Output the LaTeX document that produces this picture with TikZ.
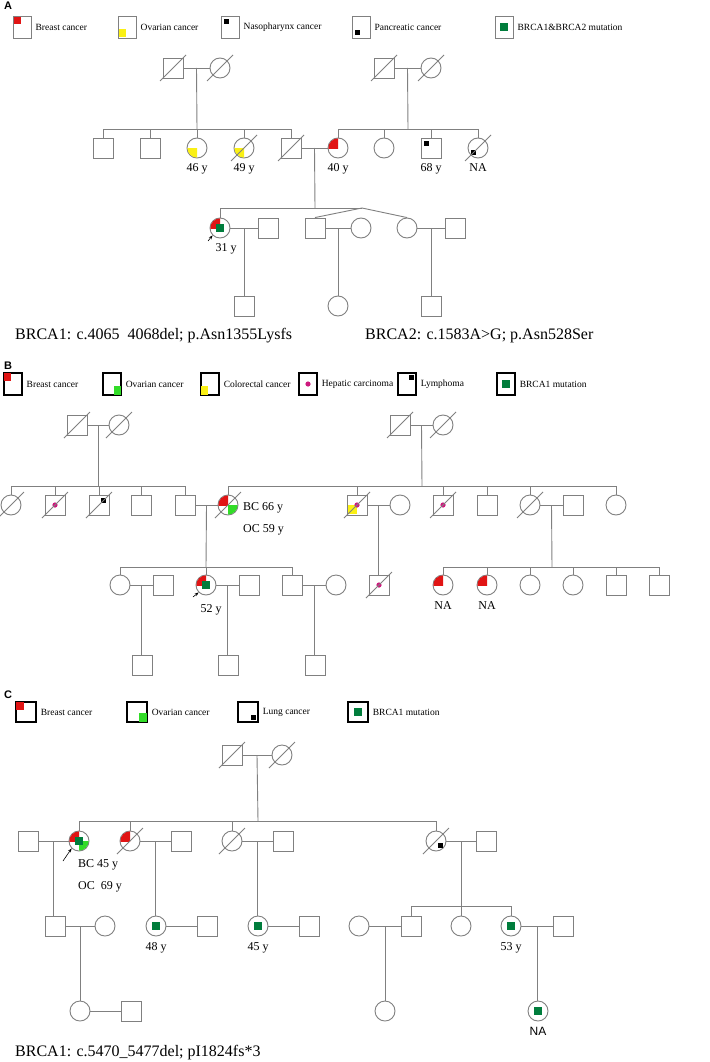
\documentclass[tikz,border=0pt]{standalone}
\usepackage{fontspec}
\setmainfont{Liberation Serif}
\newfontfamily\labfont{Liberation Sans}
\usetikzlibrary{positioning,arrows.meta}
\definecolor{kin}{RGB}{128,128,128}
\definecolor{bcred}{RGB}{225,20,20}
\definecolor{ovyel}{RGB}{250,240,20}
\definecolor{ovgrn}{RGB}{50,220,40}
\definecolor{mutgrn}{RGB}{0,125,60}
\definecolor{hepmag}{RGB}{205,25,125}
\tikzset{
  kin line/.style={draw=kin, line width=0.9pt},
  male/.style={rectangle, kin line, minimum size=20pt, inner sep=0pt},
  female/.style={circle, kin line, minimum size=20pt, inner sep=0pt},
  legA/.style={rectangle, kin line, minimum width=18pt, minimum height=22pt, inner sep=0pt},
  legB/.style={rectangle, draw=black, line width=1.1pt, minimum width=18pt, minimum height=22pt, inner sep=0pt},
  legC/.style={rectangle, draw=black, line width=1.3pt, minimum size=20pt, inner sep=0pt},
  legtxt/.style={font=\fontsize{9.5}{10}\selectfont, inner sep=0pt, right=4pt},
  agetxt/.style={font=\fontsize{12}{13}\selectfont, inner sep=0pt},
  muttxt/.style={font=\fontsize{16}{17}\selectfont, anchor=west, inner sep=0pt},
  panel/.style={font=\labfont\bfseries\fontsize{11}{12}\selectfont, inner sep=0pt}
}
% markers
\newcommand\dead[1]{\draw[kin line] ([shift={(-13,13)}]#1.center) -- ([shift={(13,-13)}]#1.center);}
\newcommand\qc[4]{\begin{scope}\clip (#1.center) rectangle ([shift={(#2,#3)}]#1.center);
  \fill[#4] (#1.center) circle (9.6pt);\end{scope}}
\newcommand\qs[4]{\fill[#4] (#1.center) rectangle ([shift={(#2,#3)}]#1.center);}
\newcommand\gmut[1]{\fill[mutgrn] ([shift={(-4,-4)}]#1.center) rectangle ([shift={(4,4)}]#1.center);}
\newcommand\hep[1]{\fill[hepmag] (#1.center) circle (2.6pt);}
\newcommand\blk[3]{\fill[black] ([shift={(#2,#3)}]#1.center) rectangle ([shift={(#2*0.35,#3*0.35)}]#1.center);}

\begin{document}
\begin{tikzpicture}[x=1pt,y=-1pt]
\useasboundingbox[fill=white] (0,0) rectangle (709,1062);

%%%%% A
\node[panel] (pA) at (8,6) {A};
\node[legA] (lgA1) at (22,27) {};
\node[legA] (lgA2) at (127,27) {};
\node[legA] (lgA3) at (230,27) {};
\node[legA] (lgA4) at (361,27) {};
\node[legA] (lgA5) at (504,27) {};
\fill[bcred] ([shift={(1,1)}]lgA1.north west) rectangle ([shift={(8,8)}]lgA1.north west);
\fill[ovyel] ([shift={(1,-1)}]lgA2.south west) rectangle ([shift={(8,-9)}]lgA2.south west);
\fill[black] ([shift={(3,3)}]lgA3.north west) rectangle ([shift={(8,8)}]lgA3.north west);
\fill[black] ([shift={(3,-3)}]lgA4.south west) rectangle ([shift={(8,-8)}]lgA4.south west);
\gmut{lgA5}
\node[legtxt, right=4pt of lgA1] {Breast cancer};
\node[legtxt, right=4pt of lgA2] {Ovarian cancer};
\node[legtxt, right=4pt of lgA3] {Nasopharynx cancer};
\node[legtxt, right=4pt of lgA4] {Pancreatic cancer};
\node[legtxt, right=4pt of lgA5] {BRCA1\&BRCA2 mutation};

\node[male] (gA1) at (173,68) {};
\node[female] (gA2) at (220,68) {};
\node[male] (gA3) at (384,68) {};
\node[female] (gA4) at (431,68) {};
\dead{gA1} \dead{gA2} \dead{gA3} \dead{gA4}
\draw[kin line] (gA1) -- (gA2) coordinate[midway] (mA1);
\draw[kin line] (gA3) -- (gA4) coordinate[midway] (mA2);
\coordinate (sA1) at (197,129);
\coordinate (sA2) at (408,129);
\draw[kin line] (mA1) -- (sA1);
\draw[kin line] (mA2) -- (sA2);

\node[male] (a1) at (103,148) {};
\node[male] (a2) at (150,148) {};
\node[female] (a3) at (197,148) {};
\node[female] (a4) at (244,148) {};
\node[male] (a5) at (291,148) {};
\node[female] (a6) at (338,148) {};
\node[female] (a7) at (384,148) {};
\node[male] (a8) at (431,148) {};
\node[female] (a9) at (478,148) {};
\qc{a3}{-12}{12}{ovyel} \qc{a4}{-12}{12}{ovyel} \qc{a6}{-12}{-12}{bcred}
\blk{a8}{-7}{-7} \blk{a9}{-7}{7}
\dead{a4} \dead{a5} \dead{a9}
\foreach \k in {a1,a2,a3,a4,a5} \draw[kin line] (\k.north) |- (sA1);
\foreach \k in {a6,a7,a8,a9} \draw[kin line] (\k.north) |- (sA2);
\node[agetxt, below=5pt of a3] {46 y};
\node[agetxt, below=5pt of a4] {49 y};
\node[agetxt, below=5pt of a6] {40 y};
\node[agetxt, below=5pt of a8] {68 y};
\node[agetxt, below=5pt of a9] {NA};

\draw[kin line] (a5) -- (a6) coordinate[midway] (mA3);
\coordinate (sA3) at (315,208);
\coordinate (twA) at (362,208);
\draw[kin line] (mA3) -- (sA3);

\node[female] (b1) at (220,228) {};
\node[male] (b2) at (268,228) {};
\node[male] (b3) at (315,228) {};
\node[female] (b4) at (361,228) {};
\node[female] (b5) at (407,228) {};
\node[male] (b6) at (455,228) {};
\qc{b1}{-12}{-12}{bcred} \gmut{b1}
\draw[kin line] (b1.north) |- (twA);
\draw[kin line] (twA) -- (b3.north);
\draw[kin line] (twA) -- (b5.north);
\coordinate (arA) at (208,241);
\draw[-{Stealth[length=4pt]}, line width=0.6pt] (arA) -- (b1.south west);
\node[agetxt] (ageb1) at (226,249) {31 y};
\draw[kin line] (b1) -- (b2) coordinate[midway] (mA4);
\draw[kin line] (b3) -- (b4) coordinate[midway] (mA5);
\draw[kin line] (b5) -- (b6) coordinate[midway] (mA6);
\node[male] (c1) at (244,306) {};
\node[female] (c2) at (338,306) {};
\node[male] (c3) at (431,306) {};
\draw[kin line] (mA4) -- (mA4 |- c1.north);
\draw[kin line] (mA5) -- (mA5 |- c2.north);
\draw[kin line] (mA6) -- (mA6 |- c3.north);
\node[muttxt] (txA1) at (15,336) {BRCA1: c.4065\enspace 4068del; p.Asn1355Lysfs};
\node[muttxt] (txA2) at (365,336) {BRCA2: c.1583A>G; p.Asn528Ser};

%%%%% B
\node[panel] (pB) at (8,366) {B};
\node[legB] (lgB1) at (13,384) {};
\node[legB] (lgB2) at (112,384) {};
\node[legB] (lgB3) at (210,384) {};
\node[legB] (lgB4) at (308,384) {};
\node[legB] (lgB5) at (407,384) {};
\node[legB] (lgB6) at (506,384) {};
\fill[bcred] ([shift={(1,1)}]lgB1.north west) rectangle ([shift={(8,9)}]lgB1.north west);
\fill[ovgrn] ([shift={(-1,-1)}]lgB2.south east) rectangle ([shift={(-8,-10)}]lgB2.south east);
\fill[ovyel] ([shift={(1,-1)}]lgB3.south west) rectangle ([shift={(8,-10)}]lgB3.south west);
\hep{lgB4}
\fill[black] ([shift={(-3,3)}]lgB5.north east) rectangle ([shift={(-8,8)}]lgB5.north east);
\gmut{lgB6}
\node[legtxt, right=4pt of lgB1] {Breast cancer};
\node[legtxt, right=4pt of lgB2] {Ovarian cancer};
\node[legtxt, right=4pt of lgB3] {Colorectal cancer};
\node[legtxt, right=4pt of lgB4] {Hepatic carcinoma};
\node[legtxt, right=4pt of lgB5] {Lymphoma};
\node[legtxt, right=4pt of lgB6] {BRCA1 mutation};

\node[male] (gB1) at (77,425) {};
\node[female] (gB2) at (119,425) {};
\node[male] (gB3) at (400,425) {};
\node[female] (gB4) at (443,425) {};
\dead{gB1} \dead{gB2} \dead{gB3} \dead{gB4}
\draw[kin line] (gB1) -- (gB2) coordinate[midway] (mB1);
\draw[kin line] (gB3) -- (gB4) coordinate[midway] (mB2);
\coordinate (sB1) at (98,486);
\coordinate (sB2) at (422,486);
\draw[kin line] (mB1) -- (sB1);
\draw[kin line] (mB2) -- (sB2);

\node[female] (d1) at (11,505) {};
\node[male] (d2) at (55,505) {};
\node[male] (d3) at (99,505) {};
\node[male] (d4) at (141,505) {};
\node[male] (d5) at (185,505) {};
\node[female] (d6) at (228,505) {};
\node[male] (d7) at (357,505) {};
\node[female] (d8) at (400,505) {};
\node[male] (d9) at (443,505) {};
\node[male] (d10) at (487,505) {};
\node[female] (d11) at (530,505) {};
\node[male] (d12) at (573,505) {};
\node[female] (d13) at (616,505) {};
\hep{d2} \blk{d3}{7}{-7}
\qc{d6}{-12}{-12}{bcred} \qc{d6}{12}{12}{ovgrn}
\qs{d7}{-9}{9}{ovyel} \hep{d7} \hep{d9}
\dead{d1} \dead{d2} \dead{d3} \dead{d6} \dead{d7} \dead{d9} \dead{d11}
\foreach \k in {d1,d2,d3,d4,d5} \draw[kin line] (\k.north) |- (sB1);
\foreach \k in {d6,d7,d9,d10,d11,d13} \draw[kin line] (\k.north) |- (sB2);
\node[agetxt, anchor=west] (bcB) at (243,508) {BC 66 y};
\node[agetxt, anchor=west] (ocB) at (243,530) {OC 59 y};

\draw[kin line] (d5) -- (d6) coordinate[midway] (mB3);
\draw[kin line] (d7) -- (d8) coordinate[midway] (mB4);
\draw[kin line] (d11) -- (d12) coordinate[midway] (mB5);
\coordinate (sB3) at (206,567);
\coordinate (sB4) at (552,567);
\draw[kin line] (mB3) -- (sB3);
\draw[kin line] (mB5) -- (sB4);

\node[female] (e1) at (120,585) {};
\node[male] (e2) at (163,585) {};
\node[female] (e3) at (206,585) {};
\node[male] (e4) at (249,585) {};
\node[male] (e5) at (292,585) {};
\node[female] (e6) at (336,585) {};
\node[male] (e7) at (379,585) {};
\node[female] (e8) at (443,585) {};
\node[female] (e9) at (487,585) {};
\node[female] (e10) at (530,585) {};
\node[female] (e11) at (573,585) {};
\node[male] (e12) at (616,585) {};
\node[male] (e13) at (659,585) {};
\qc{e3}{-12}{-12}{bcred} \gmut{e3}
\hep{e7} \dead{e7}
\qc{e8}{-12}{-12}{bcred} \qc{e9}{-12}{-12}{bcred}
\foreach \k in {e1,e3,e5} \draw[kin line] (\k.north) |- (sB3);
\foreach \k in {e8,e9,e10,e11,e12,e13} \draw[kin line] (\k.north) |- (sB4);
\draw[kin line] (mB4) -- (mB4 |- e7.north);
\coordinate (arB) at (193,597);
\draw[-{Stealth[length=4pt]}, line width=0.6pt] (arB) -- (e3.south west);
\node[agetxt] (agee3) at (211,610) {52 y};
\node[agetxt, below=6pt of e8] {NA};
\node[agetxt, below=6pt of e9] {NA};

\draw[kin line] (e1) -- (e2) coordinate[midway] (mB6);
\draw[kin line] (e3) -- (e4) coordinate[midway] (mB7);
\draw[kin line] (e5) -- (e6) coordinate[midway] (mB8);
\node[male] (f1) at (142,665) {};
\node[male] (f2) at (228,665) {};
\node[male] (f3) at (315,665) {};
\draw[kin line] (mB6) -- (mB6 |- f1.north);
\draw[kin line] (mB7) -- (mB7 |- f2.north);
\draw[kin line] (mB8) -- (mB8 |- f3.north);

%%%%% C
\node[panel] (pC) at (8,695) {C};
\node[legC] (lgC1) at (26,712) {};
\node[legC] (lgC2) at (137,712) {};
\node[legC] (lgC3) at (248,712) {};
\node[legC] (lgC4) at (358,712) {};
\fill[bcred] ([shift={(1,1)}]lgC1.north west) rectangle ([shift={(9,9)}]lgC1.north west);
\fill[ovgrn] ([shift={(-1,-1)}]lgC2.south east) rectangle ([shift={(-9,-10)}]lgC2.south east);
\fill[black] ([shift={(-3,-3)}]lgC3.south east) rectangle ([shift={(-8,-8)}]lgC3.south east);
\gmut{lgC4}
\node[legtxt, right=4pt of lgC1] {Breast cancer};
\node[legtxt, right=4pt of lgC2] {Ovarian cancer};
\node[legtxt, right=4pt of lgC3] {Lung cancer};
\node[legtxt, right=4pt of lgC4] {BRCA1 mutation};

\node[male] (gC1) at (232,755) {};
\node[female] (gC2) at (282,755) {};
\dead{gC1} \dead{gC2}
\draw[kin line] (gC1) -- (gC2) coordinate[midway] (mC1);
\coordinate (sC1) at (258,821);
\draw[kin line] (mC1) -- (sC1);

\node[male] (h1) at (28,841) {};
\node[female] (h2) at (79,841) {};
\node[female] (h3) at (130,841) {};
\node[male] (h4) at (181,841) {};
\node[female] (h5) at (232,841) {};
\node[male] (h6) at (283,841) {};
\node[female] (h7) at (436,841) {};
\node[male] (h8) at (486,841) {};
\qc{h2}{-12}{-12}{bcred} \qc{h2}{12}{12}{ovgrn} \gmut{h2}
\qc{h3}{-12}{-12}{bcred}
\blk{h7}{7}{7}
\dead{h3} \dead{h5} \dead{h7}
\foreach \k in {h2,h3,h5,h7} \draw[kin line] (\k.north) |- (sC1);
\coordinate (arC) at (63,861);
\draw[-{Stealth[length=4pt]}, line width=0.6pt] (arC) -- (h2.south west);
\node[agetxt, anchor=west] (bcC) at (78,865) {BC 45 y};
\node[agetxt, anchor=west] (ocC) at (78,887) {OC\enspace 69 y};

\draw[kin line] (h1) -- (h2) coordinate[midway] (mC2);
\draw[kin line] (h3) -- (h4) coordinate[midway] (mC3);
\draw[kin line] (h5) -- (h6) coordinate[midway] (mC4);
\draw[kin line] (h7) -- (h8) coordinate[midway] (mC5);
\coordinate (sC2) at (461,906);
\draw[kin line] (mC5) -- (sC2);

\node[male] (k1) at (55,926) {};
\node[female] (k2) at (105,926) {};
\node[female] (k3) at (156,926) {};
\node[male] (k4) at (207,926) {};
\node[female] (k5) at (258,926) {};
\node[male] (k6) at (309,926) {};
\node[female] (k0) at (359,926) {};
\node[male] (k7) at (411,926) {};
\node[female] (k8) at (461,926) {};
\node[female] (k9) at (511,926) {};
\node[male] (k10) at (563,926) {};
\gmut{k3} \gmut{k5} \gmut{k9}
\draw[kin line] (mC2) -- (mC2 |- k1.north);
\draw[kin line] (mC3) -- (mC3 |- k3.north);
\draw[kin line] (mC4) -- (mC4 |- k5.north);
\foreach \k in {k7,k8,k9} \draw[kin line] (\k.north) |- (sC2);
\node[agetxt, below=6pt of k3] {48 y};
\node[agetxt, below=6pt of k5] {45 y};
\node[agetxt, below=6pt of k9] {53 y};

\draw[kin line] (k1) -- (k2) coordinate[midway] (mC6);
\draw[kin line] (k3) -- (k4);
\draw[kin line] (k5) -- (k6);
\draw[kin line] (k0) -- (k7) coordinate[midway] (mC7);
\draw[kin line] (k9) -- (k10) coordinate[midway] (mC8);
\node[female] (l1) at (80,1011) {};
\node[male] (l2) at (131,1011) {};
\node[female] (l3) at (385,1011) {};
\node[female] (l4) at (538,1011) {};
\gmut{l4}
\draw[kin line] (l1) -- (l2);
\draw[kin line] (mC6) -- (mC6 |- l1.north);
\draw[kin line] (mC7) -- (mC7 |- l3.north);
\draw[kin line] (mC8) -- (mC8 |- l4.north);
\node[agetxt, font=\labfont\fontsize{12}{13}\selectfont, below=6pt of l4] {NA};
\node[muttxt] (txC) at (15,1053) {BRCA1: c.5470\_5477del; pI1824fs*3};
\end{tikzpicture}
\end{document}
